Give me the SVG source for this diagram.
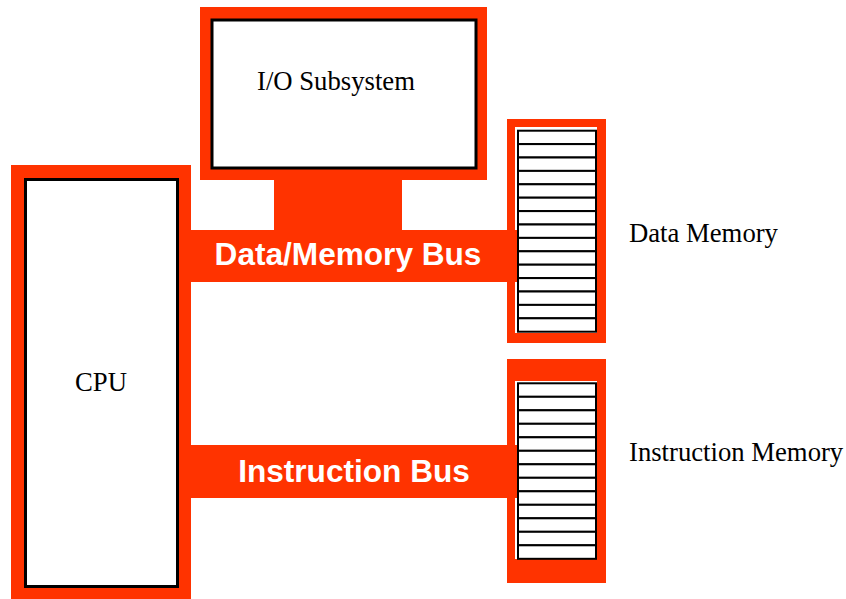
<svg xmlns="http://www.w3.org/2000/svg" width="846" height="599" viewBox="0 0 846 599">
<style>
.red{fill:#FF3300}
.box{fill:#FFFFFF;stroke:#000000;stroke-width:3}
.cell{fill:#FFFFFF;stroke:#000000;stroke-width:2}
.lbl{font-family:"Liberation Serif","Times New Roman",serif;font-size:26.7px;fill:#000000}
.bus{font-family:"Liberation Sans",Arial,Helvetica,sans-serif;font-size:31.6px;font-weight:bold;fill:#FFFFFF;text-anchor:middle}
</style>
<defs>
<rect id="cellA" class="cell" x="518" y="0" width="78" height="13.4"/>
<rect id="cellB" class="cell" x="518" y="0" width="78" height="13.5"/>
</defs>
<rect width="846" height="599" fill="#FFFFFF"/>
<g id="connectors">
<rect id="io-stem" class="red" x="274" y="176" width="128" height="56"/>
<rect id="data-memory-bus" class="red" x="177" y="230" width="341" height="52"/>
<rect id="instruction-bus" class="red" x="177" y="445" width="341" height="53"/>
<text class="bus" x="348" y="265">Data/Memory Bus</text>
<text class="bus" x="354" y="482">Instruction Bus</text>
</g>
<g id="cpu">
<rect class="red" x="11" y="165" width="180" height="434"/>
<rect class="box" x="25.5" y="179.5" width="152" height="407"/>
<text class="lbl" x="75" y="391">CPU</text>
</g>
<g id="io-subsystem">
<rect class="red" x="200" y="7" width="287" height="173"/>
<rect class="box" x="212" y="20" width="264" height="148"/>
<text class="lbl" x="257" y="90">I/O Subsystem</text>
</g>
<g id="data-memory">
<path class="red" fill-rule="evenodd" d="M507 119H606V343H507Z M515 127V333H597V127Z"/>
<use href="#cellA" y="130.7"/>
<use href="#cellA" y="144.1"/>
<use href="#cellA" y="157.5"/>
<use href="#cellA" y="170.9"/>
<use href="#cellA" y="184.3"/>
<use href="#cellA" y="197.7"/>
<use href="#cellA" y="211.1"/>
<use href="#cellA" y="224.5"/>
<use href="#cellA" y="237.9"/>
<use href="#cellA" y="251.3"/>
<use href="#cellA" y="264.7"/>
<use href="#cellA" y="278.1"/>
<use href="#cellA" y="291.5"/>
<use href="#cellA" y="304.9"/>
<use href="#cellA" y="318.3"/>
<text class="lbl" x="629" y="242">Data Memory</text>
</g>
<g id="instruction-memory">
<path class="red" fill-rule="evenodd" d="M507 359H606V583H507Z M515 381V559H597V381Z"/>
<use href="#cellB" y="383.3"/>
<use href="#cellB" y="396.8"/>
<use href="#cellB" y="410.3"/>
<use href="#cellB" y="423.8"/>
<use href="#cellB" y="437.3"/>
<use href="#cellB" y="450.8"/>
<use href="#cellB" y="464.3"/>
<use href="#cellB" y="477.8"/>
<use href="#cellB" y="491.3"/>
<use href="#cellB" y="504.8"/>
<use href="#cellB" y="518.3"/>
<use href="#cellB" y="531.8"/>
<use href="#cellB" y="545.3"/>
<text class="lbl" x="629" y="461">Instruction Memory</text>
</g>
</svg>
